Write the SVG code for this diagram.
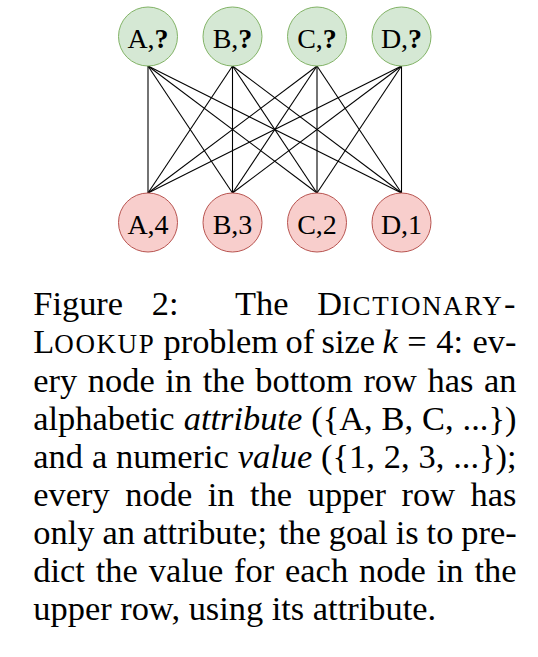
<svg xmlns="http://www.w3.org/2000/svg" width="538" height="657" viewBox="0 0 538 657">
<style>
.top{fill:#d5e8d4;stroke:#82b366;stroke-width:1}
.bot{fill:#f8cecc;stroke:#b85450;stroke-width:1}
.lbl{font-family:"Liberation Serif","Times New Roman",serif;font-size:28px;fill:#000;text-anchor:middle}
.cap{font-family:"Liberation Serif","Times New Roman",serif;font-size:34.4px;fill:#000}
.sc{font-size:27px;letter-spacing:1.6px}
.it{font-style:italic}
.edges line{stroke:#000;stroke-width:1.1}
</style>
<rect width="538" height="657" fill="#fff"/>
<g class="edges" id="connectors">
<line x1="148" y1="66" x2="148" y2="193"/><line x1="148" y1="66" x2="232.5" y2="193"/><line x1="148" y1="66" x2="317" y2="193"/><line x1="148" y1="66" x2="401.5" y2="193"/>
<line x1="232.5" y1="66" x2="148" y2="193"/><line x1="232.5" y1="66" x2="232.5" y2="193"/><line x1="232.5" y1="66" x2="317" y2="193"/><line x1="232.5" y1="66" x2="401.5" y2="193"/>
<line x1="317" y1="66" x2="148" y2="193"/><line x1="317" y1="66" x2="232.5" y2="193"/><line x1="317" y1="66" x2="317" y2="193"/><line x1="317" y1="66" x2="401.5" y2="193"/>
<line x1="401.5" y1="66" x2="148" y2="193"/><line x1="401.5" y1="66" x2="232.5" y2="193"/><line x1="401.5" y1="66" x2="317" y2="193"/><line x1="401.5" y1="66" x2="401.5" y2="193"/>
</g>
<g id="top-A"><circle class="top" cx="148" cy="36.5" r="29.5"/><text class="lbl" x="148" y="47.5">A,<tspan font-weight="bold">?</tspan></text></g>
<g id="top-B"><circle class="top" cx="232.5" cy="36.5" r="29.5"/><text class="lbl" x="232.5" y="47.5">B,<tspan font-weight="bold">?</tspan></text></g>
<g id="top-C"><circle class="top" cx="317" cy="36.5" r="29.5"/><text class="lbl" x="317" y="47.5">C,<tspan font-weight="bold">?</tspan></text></g>
<g id="top-D"><circle class="top" cx="401.5" cy="36.5" r="29.5"/><text class="lbl" x="401.5" y="47.5">D,<tspan font-weight="bold">?</tspan></text></g>
<g id="bot-A"><circle class="bot" cx="148" cy="222.5" r="29.5"/><text class="lbl" x="148" y="233.5">A,4</text></g>
<g id="bot-B"><circle class="bot" cx="232.5" cy="222.5" r="29.5"/><text class="lbl" x="232.5" y="233.5">B,3</text></g>
<g id="bot-C"><circle class="bot" cx="317" cy="222.5" r="29.5"/><text class="lbl" x="317" y="233.5">C,2</text></g>
<g id="bot-D"><circle class="bot" cx="401.5" cy="222.5" r="29.5"/><text class="lbl" x="401.5" y="233.5">D,1</text></g>
<g id="caption">
<text class="cap" y="315"><tspan x="33.3">Figure</tspan><tspan x="151.7">2:</tspan><tspan x="235.1">The</tspan><tspan x="317.2">D</tspan><tspan class="sc">ICTIONARY</tspan><tspan x="504">-</tspan></text>
<text class="cap" y="353.3"><tspan x="33.3">L</tspan><tspan class="sc">OOKUP</tspan><tspan x="163.5">problem</tspan><tspan x="285.6">of</tspan><tspan x="321.6">size</tspan><tspan x="382.4" class="it">k</tspan><tspan x="407.3">=</tspan><tspan x="436.3">4:</tspan><tspan x="472.6">ev-</tspan></text>
<text class="cap" y="391.5"><tspan x="33.3">ery</tspan><tspan x="87.8">node</tspan><tspan x="165.3">in</tspan><tspan x="202.7">the</tspan><tspan x="255.3">bottom</tspan><tspan x="363.4">row</tspan><tspan x="427.5">has</tspan><tspan x="484">an</tspan></text>
<text class="cap" y="429.6"><tspan x="33.3">alphabetic</tspan><tspan x="183.7" class="it">attribute</tspan><tspan x="311.2">({A,</tspan><tspan x="381.6">B,</tspan><tspan x="422.1">C,</tspan><tspan x="462.6">...})</tspan></text>
<text class="cap" y="467.8"><tspan x="33.3">and</tspan><tspan x="91.9">a</tspan><tspan x="116.1">numeric</tspan><tspan x="237.7" class="it">value</tspan><tspan x="321.1">({1,</tspan><tspan x="383.8">2,</tspan><tspan x="418.5">3,</tspan><tspan x="453.2">...});</tspan></text>
<text class="cap" y="506"><tspan x="33.3">every</tspan><tspan x="125.3">node</tspan><tspan x="207.7">in</tspan><tspan x="250.1">the</tspan><tspan x="307.7">upper</tspan><tspan x="401.6">row</tspan><tspan x="470.6">has</tspan></text>
<text class="cap" y="544.1"><tspan x="33.3">only</tspan><tspan x="102.4">an</tspan><tspan x="142.8">attribute;</tspan><tspan x="278.8">the</tspan><tspan x="328.7">goal</tspan><tspan x="395.8">is</tspan><tspan x="426.6">to</tspan><tspan x="461.3">pre-</tspan></text>
<text class="cap" y="582.3"><tspan x="33.3">dict</tspan><tspan x="95.8">the</tspan><tspan x="148.7">value</tspan><tspan x="234.1">for</tspan><tspan x="285.1">each</tspan><tspan x="359">node</tspan><tspan x="436.8">in</tspan><tspan x="474.5">the</tspan></text>
<text class="cap" x="33.3" y="620.4">upper row, using its attribute.</text>
</g>
</svg>
